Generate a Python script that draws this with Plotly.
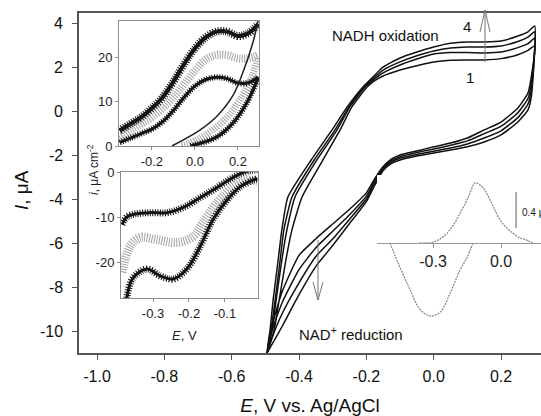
import plotly.graph_objects as go

# ---------------- main CV, four cycles (E / V, I / uA) ----------------
rev_E = [0.29, 0.28, 0.25, 0.20, 0.15, 0.10, 0.05, 0.0, -0.05, -0.10, -0.125, -0.15,
         -0.175, -0.20, -0.25, -0.30, -0.35, -0.40, -0.45, -0.48, -0.495]
plateau_E = [-0.175, -0.15, -0.10, -0.05, 0.0, 0.05, 0.10, 0.15, 0.20, 0.25, 0.28, 0.30]
rise_I = [-11.0, -9.95, -8.59, -6.76, -5.39, -3.89, -2.2, -0.83, 0.22, 1.13]

rise_E_1 = [-0.495, -0.474, -0.459, -0.439, -0.421, -0.391, -0.329, -0.278, -0.243, -0.198]
rise_E_2 = [-0.495, -0.480, -0.468, -0.451, -0.436, -0.412, -0.347, -0.287, -0.249, -0.204]
rise_E_3 = [-0.495, -0.483, -0.471, -0.456, -0.445, -0.421, -0.355, -0.293, -0.252, -0.207]
rise_E_4 = [-0.495, -0.486, -0.477, -0.462, -0.451, -0.433, -0.364, -0.302, -0.257, -0.210]

plateau_I_1 = [1.42, 1.63, 1.90, 2.10, 2.27, 2.35, 2.36, 2.36, 2.42, 2.60, 2.80, 3.00]
plateau_I_2 = [1.50, 1.77, 2.13, 2.40, 2.63, 2.70, 2.70, 2.68, 2.72, 2.92, 3.10, 3.35]
plateau_I_3 = [1.58, 1.90, 2.27, 2.55, 2.77, 2.90, 2.95, 2.95, 3.00, 3.20, 3.40, 3.65]
plateau_I_4 = [1.66, 2.04, 2.45, 2.72, 2.95, 3.12, 3.18, 3.18, 3.22, 3.45, 3.64, 3.91]

rev_I_1 = [1.6, 0.85, 0.17, -0.47, -0.83, -1.2, -1.43, -1.6, -1.79, -1.97, -2.15, -2.5,
           -3.05, -3.7, -4.45, -5.12, -5.79, -6.55, -8.2, -9.73, -11.0]
rev_I_2 = [1.3, 0.6, -0.05, -0.67, -1.0, -1.33, -1.53, -1.7, -1.86, -2.05, -2.22, -2.56,
           -3.15, -3.85, -4.7, -5.45, -6.2, -7.2, -8.7, -10.0, -11.0]
rev_I_3 = [1.0, 0.35, -0.27, -0.87, -1.2, -1.47, -1.65, -1.8, -1.95, -2.12, -2.28, -2.62,
           -3.25, -3.98, -4.9, -5.8, -6.6, -7.8, -9.2, -10.3, -11.0]
rev_I_4 = [0.7, 0.08, -0.47, -1.06, -1.38, -1.6, -1.75, -1.88, -2.02, -2.2, -2.35, -2.68,
           -3.35, -4.1, -5.1, -6.1, -7.05, -8.34, -9.78, -10.6, -11.0]

# ---------------- inset 1 (i / uA cm-2 vs E) ----------------
in1_E = [-0.35, -0.30, -0.25, -0.20, -0.15, -0.10, -0.05, 0.0, 0.05, 0.10, 0.15, 0.20, 0.25, 0.295]
in1_top = [3.5, 5.0, 6.5, 8.5, 11.0, 14.5, 18.5, 22.0, 24.5, 25.8, 25.8, 24.8, 25.5, 27.5]
in1_mid = [1.8, 3.5, 5.0, 6.5, 8.5, 11.0, 14.0, 17.0, 19.5, 20.5, 20.5, 19.8, 19.8, 20.5]
in1_low = [0.8, 1.8, 2.8, 3.8, 5.5, 8.0, 11.0, 13.5, 15.0, 15.5, 15.2, 14.2, 14.3, 15.5]
in1_ret_thin_E = [-0.107, 0.023, 0.10, 0.177, 0.223, 0.27, 0.293]
in1_ret_thin_I = [0.0, 3.6, 6.6, 11.4, 16.6, 23.4, 28.2]
in1_ret_mid_E = [-0.06, 0.05, 0.15, 0.21, 0.26, 0.295]
in1_ret_mid_I = [0.0, 2.5, 6.5, 10.5, 15.0, 20.0]
in1_ret_low_E = [-0.02, 0.10, 0.177, 0.242, 0.295]
in1_ret_low_I = [0.0, 2.0, 5.2, 9.8, 15.5]

# ---------------- inset 2 ----------------
in2_top_E = [-0.386, -0.372, -0.35, -0.308, -0.261, -0.217, -0.169, -0.133, -0.094, -0.058, -0.03, -0.01]
in2_top_I = [-11.6, -9.9, -9.3, -9.0, -9.0, -7.9, -5.7, -4.0, -2.0, -0.4, 0.3, 0.5]
in2_mid_E = [-0.386, -0.364, -0.336, -0.289, -0.233, -0.189, -0.161, -0.122, -0.078, -0.039, -0.01]
in2_mid_I = [-22.2, -16.5, -14.5, -15.0, -15.6, -14.3, -11.2, -6.8, -3.3, -1.8, -2.0]
in2_low_E = [-0.374, -0.356, -0.317, -0.28, -0.244, -0.206, -0.169, -0.133, -0.094, -0.058, -0.022, -0.01]
in2_low_I = [-28.5, -23.5, -21.5, -23.0, -23.7, -21.5, -16.5, -10.5, -6.2, -3.3, -1.8, -1.5]

# ---------------- inset 3 (deconvoluted peaks) ----------------
ox_E = [-0.36, -0.30, -0.26, -0.238, -0.21, -0.181, -0.15, -0.13, -0.115, -0.09, -0.07,
        -0.049, -0.03, -0.005, 0.02, 0.052, 0.08, 0.115, 0.14]
ox_I = [0.0, 0.01, 0.06, 0.11, 0.2, 0.33, 0.48, 0.6, 0.67, 0.64, 0.58,
        0.48, 0.38, 0.26, 0.18, 0.11, 0.06, 0.03, 0.0]
red_E = [-0.49, -0.446, -0.401, -0.357, -0.313, -0.269, -0.225, -0.181, -0.15, -0.124]
red_I = [0.0, -0.27, -0.52, -0.74, -0.81, -0.77, -0.56, -0.3, -0.16, 0.0]

x_ticks = [-1.0, -0.8, -0.6, -0.4, -0.2, 0.0, 0.2]
x_ticktext = ["-1.0", "-0.8", "-0.6", "-0.4", "-0.2", "0.0", "0.2"]
y_ticks = [4, 2, 0, -2, -4, -6, -8, -10]
y_ticktext = ["4", "2", "0", "-2", "-4", "-6", "-8", "-10"]

FONT = "Liberation Sans, Arial, sans-serif"


def xp(px):
    return (px - 79) / 462


def yp(py):
    return (353 - py) / 340


fig = go.Figure()

cycles = [(rise_E_1, plateau_I_1, rev_I_1), (rise_E_2, plateau_I_2, rev_I_2),
          (rise_E_3, plateau_I_3, rev_I_3), (rise_E_4, plateau_I_4, rev_I_4)]
for rise_E, plat_I, rev_I in cycles:
    fig.add_trace(go.Scatter(x=rise_E + plateau_E + rev_E, y=rise_I + plat_I + rev_I,
                             mode="lines", line=dict(color="#111", width=1.5, shape="spline", smoothing=0.5),
                             showlegend=False, hoverinfo="skip"))


def band(x, y, xa, ya, color, core, hatch):
    if core:
        fig.add_trace(go.Scatter(x=x, y=y, xaxis=xa, yaxis=ya, mode="lines",
                                 line=dict(color=color, width=core, shape="spline"),
                                 showlegend=False, hoverinfo="skip"))
    fig.add_trace(go.Scatter(x=x, y=y, xaxis=xa, yaxis=ya, mode="lines",
                             line=dict(color=color, width=hatch, dash="1px,1.5px", shape="spline"),
                             showlegend=False, hoverinfo="skip"))


# inset 1
band(in1_E, in1_mid, "x2", "y2", "#a0a0a0", 0, 8)
band(in1_ret_mid_E, in1_ret_mid_I, "x2", "y2", "#a0a0a0", 0, 7)
band(in1_E, in1_top, "x2", "y2", "#151515", 4, 8)
band(in1_E, in1_low, "x2", "y2", "#151515", 3, 6)
band(in1_ret_low_E, in1_ret_low_I, "x2", "y2", "#151515", 3, 6)
fig.add_trace(go.Scatter(x=in1_ret_thin_E, y=in1_ret_thin_I, xaxis="x2", yaxis="y2", mode="lines",
                         line=dict(color="#222", width=1.5, shape="spline"), showlegend=False, hoverinfo="skip"))

# inset 2
band(in2_mid_E, in2_mid_I, "x3", "y3", "#a0a0a0", 0, 9)
band(in2_top_E, in2_top_I, "x3", "y3", "#151515", 3, 7)
band(in2_low_E, in2_low_I, "x3", "y3", "#151515", 3, 7)

# inset 3
for ex, iy in [(ox_E, ox_I), (red_E, red_I)]:
    fig.add_trace(go.Scatter(x=ex, y=iy, xaxis="x4", yaxis="y4", mode="lines",
                             line=dict(color="#8a8a8a", width=1.3, dash="2px,1px", shape="spline"),
                             showlegend=False, hoverinfo="skip"))

inset_ax = dict(showline=True, linecolor="#8c8c8c", linewidth=1, mirror=True, ticks="outside",
                ticklen=3, tickcolor="#8c8c8c", showgrid=False, zeroline=False, automargin=False,
                tickfont=dict(size=13, color="#222", family=FONT))

fig.update_layout(
    width=541, height=416,
    margin=dict(l=79, r=0, t=13, b=63, autoexpand=False),
    paper_bgcolor="white", plot_bgcolor="white",
    font=dict(family=FONT, color="#111"),
    xaxis=dict(range=[-1.0535, 0.3187], showline=True, linecolor="#555", linewidth=1.5, mirror=True,
               ticks="outside", ticklen=5, tickcolor="#555", tickvals=x_ticks, ticktext=x_ticktext,
               tickfont=dict(size=16), ticklabelstandoff=3, showgrid=False, zeroline=False,
               automargin=False,
               title=dict(text="<i>E</i>, V vs. Ag/AgCl", font=dict(size=19), standoff=23)),
    yaxis=dict(range=[-11.0, 4.5], showline=True, linecolor="#555", linewidth=1.5,
               ticks="outside", ticklen=5, tickcolor="#555", tickvals=y_ticks,
               showticklabels=False, showgrid=False, zeroline=False, automargin=False),
    xaxis2=dict(inset_ax, domain=[xp(119), xp(259)], anchor="y2", range=[-0.353, 0.298],
                tickvals=[-0.2, 0.0, 0.2], ticktext=["-0.2", "0.0", "0.2"]),
    yaxis2=dict(inset_ax, domain=[yp(146), yp(21)], anchor="x2", range=[0, 28.2],
                tickvals=[0, 10, 20], ticktext=["0", "10", "20"]),
    xaxis3=dict(inset_ax, domain=[xp(121), xp(258)], anchor="y3", range=[-0.389, -0.008],
                tickvals=[-0.3, -0.2, -0.1], ticktext=["-0.3", "-0.2", "-0.1"]),
    yaxis3=dict(inset_ax, domain=[yp(298), yp(172)], anchor="x3", range=[-27.9, 0],
                tickvals=[-20, -10, 0], ticktext=["-20", "-10", "0"]),
    xaxis4=dict(domain=[xp(377), 1.0], anchor="free", position=yp(243), range=[-0.547, 0.176],
                showline=True, linecolor="#999", linewidth=1.3, ticks="outside", ticklen=4,
                tickcolor="#999", tickvals=[-0.3, 0.0], ticktext=["-0.3", "0.0"], automargin=False,
                tickfont=dict(size=16, color="#222"), showgrid=False, zeroline=False),
    yaxis4=dict(domain=[yp(330), yp(175)], anchor="x4", range=[-0.967, 0.756], visible=False,
                automargin=False),
)

# main y tick labels and title, placed beside the axis on the y scale
for v, t in zip(y_ticks, y_ticktext):
    fig.add_annotation(x=xp(65), y=v, xref="paper", yref="y", xanchor="right", yanchor="middle",
                       showarrow=False, text=t, font=dict(size=16, color="#111"))
fig.add_annotation(x=xp(22), y=yp(190), xref="paper", yref="paper", xanchor="center", yanchor="middle",
                   showarrow=False, textangle=-90, text="<i>I</i>, μA", font=dict(size=19, color="#111"))

ann = dict(showarrow=False, xanchor="center", yanchor="middle", xref="paper", yref="paper",
           font=dict(size=15, color="#111"))
fig.add_annotation(ann, x=xp(385), y=yp(35), text="NADH oxidation")
fig.add_annotation(ann, x=xp(467), y=yp(27), text="4")
fig.add_annotation(ann, x=xp(470), y=yp(77), text="1")
fig.add_annotation(ann, x=xp(351), y=yp(333), text="NAD<sup>+</sup> reduction")
fig.add_annotation(ann, x=xp(93), y=yp(170), textangle=-90,
                   text="<i>i</i>, μA cm<sup>-2</sup>", font=dict(size=12, color="#222"))
fig.add_annotation(ann, x=xp(184), y=yp(335), text="<i>E</i>, V", font=dict(size=13, color="#222"))
fig.add_annotation(showarrow=False, x=0.083, y=0.34, xref="x4", yref="y4", xanchor="left",
                   yanchor="middle", text="0.4 μA", font=dict(size=10, color="#222"))

arrow = dict(type="line", xref="paper", yref="paper", line=dict(color="#777", width=1))
# up arrow (oxidation grows with cycle)
fig.add_shape(arrow, x0=xp(485), y0=yp(62), x1=xp(485), y1=yp(10))
fig.add_shape(arrow, x0=xp(480), y0=yp(32), x1=xp(485), y1=yp(10))
fig.add_shape(arrow, x0=xp(490), y0=yp(32), x1=xp(485), y1=yp(10))
# down arrow (reduction grows with cycle)
fig.add_shape(arrow, x0=xp(318), y0=yp(240), x1=xp(318), y1=yp(300))
fig.add_shape(arrow, x0=xp(313), y0=yp(282), x1=xp(318), y1=yp(300))
fig.add_shape(arrow, x0=xp(323), y0=yp(282), x1=xp(318), y1=yp(300))
# 0.4 uA scale bar
fig.add_shape(type="line", xref="x4", yref="y4", x0=0.066, x1=0.066, y0=0.167, y1=0.567,
              line=dict(color="#777", width=1.2))

fig.write_html("out.html", config={"displayModeBar": False},
               post_script="document.body.style.margin='0';")
